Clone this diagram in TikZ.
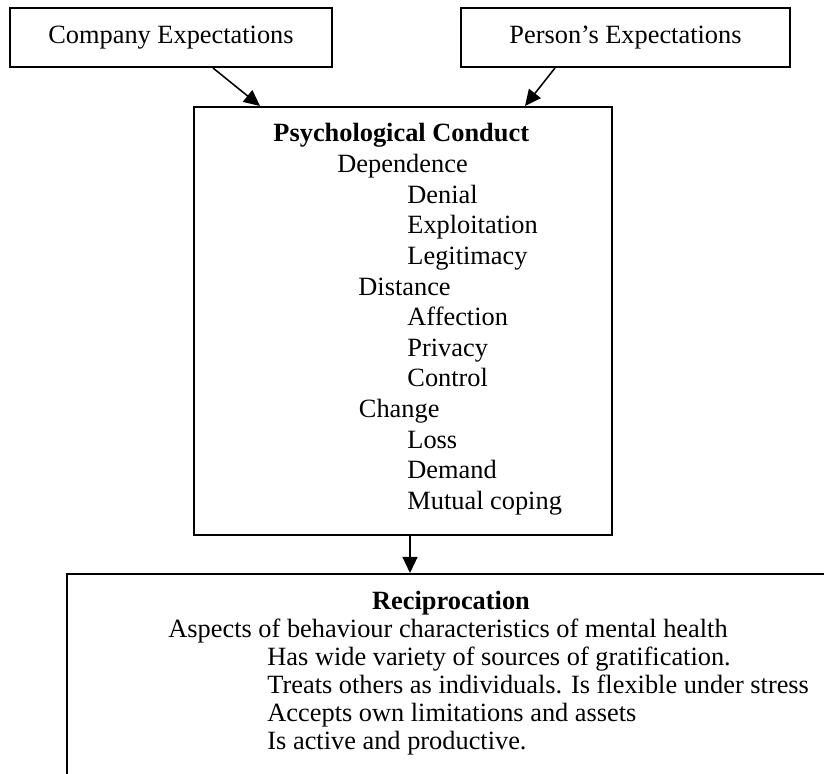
\documentclass[tikz,border=0pt]{standalone}
\usepackage{fontspec}
\setmainfont{Liberation Serif}
\usetikzlibrary{arrows.meta, positioning}

\begin{document}
\begin{tikzpicture}[
    font=\fontsize{12}{14.4}\selectfont,
    box/.style={draw, line width=0.9pt, inner sep=0pt},
    arrow/.style={-{Triangle[length=7.3pt,width=6.8pt]}, line width=0.7pt, black},
    heading/.style={font=\fontsize{12}{14.4}\selectfont\bfseries, anchor=base, inner sep=0pt},
    entry/.style={anchor=base west, inner sep=0pt}
]

% Frame (the lower box runs off the page)
\useasboundingbox (0,0) rectangle (13.184,12.384);
\clip (0,0) rectangle (13.184,12.384);

% Expectations
\node[box, minimum width=5.152cm, minimum height=0.944cm] (company) at (2.736,11.784) {Company Expectations};
\node[box, minimum width=5.264cm, minimum height=0.944cm] (person)  at (10.008,11.784) {Person’s Expectations};

% Psychological conduct
\node[box, minimum width=6.688cm, minimum height=6.848cm] (conduct) at (6.448,7.248) {};
\node[heading] (conduct_title) at (6.42,10.112) {Psychological Conduct};
\node[entry] (dependence)   at (5.392,9.622) {Dependence};
\node[entry] (denial)       at (6.512,9.132) {Denial};
\node[entry] (exploitation) at (6.512,8.642) {Exploitation};
\node[entry] (legitimacy)   at (6.512,8.152) {Legitimacy};
\node[entry] (distance)     at (5.728,7.662) {Distance};
\node[entry] (affection)    at (6.512,7.172) {Affection};
\node[entry] (privacy)      at (6.512,6.682) {Privacy};
\node[entry] (control)      at (6.512,6.192) {Control};
\node[entry] (change)       at (5.736,5.702) {Change};
\node[entry] (loss)         at (6.512,5.212) {Loss};
\node[entry] (demand)       at (6.512,4.722) {Demand};
\node[entry] (coping)       at (6.512,4.232) {Mutual coping};

% Reciprocation
\node[box, minimum width=12.928cm, minimum height=4.2cm] (recip) at (7.536,1.1) {};
\node[heading] (recip_title) at (7.216,2.624) {Reciprocation};
\node[entry] (aspects)     at (2.688,2.176) {Aspects of behaviour characteristics of mental health};
\node[entry] (sources)     at (4.272,1.728) {Has wide variety of sources of gratification.};
\node[entry] (individuals) at (4.272,1.280) {Treats others as individuals. Is flexible under stress};
\node[entry] (limits)      at (4.272,0.832) {Accepts own limitations and assets};
\node[entry] (active)      at (4.272,0.384) {Is active and productive.};

% Arrows
\draw[arrow] ([xshift=0.672cm]company.south) -- ([xshift=-2.288cm]conduct.north);
\draw[arrow] ([xshift=-1.128cm]person.south) -- ([xshift=1.952cm]conduct.north);
\draw[arrow] ([xshift=0.112cm]conduct.south) -- ([xshift=0.112cm]conduct.south |- recip.north);

\end{tikzpicture}
\end{document}
